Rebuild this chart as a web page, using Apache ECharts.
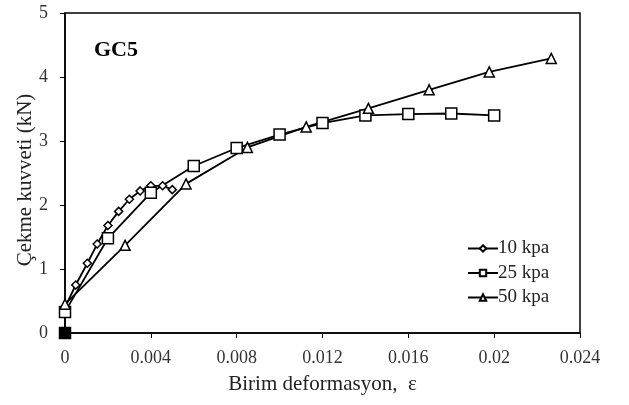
<!DOCTYPE html>
<html>
<head>
<meta charset="utf-8">
<script src="https://cdn.jsdelivr.net/npm/echarts@6/dist/echarts.min.js"></script>
<style>
  html, body { margin: 0; padding: 0; background: #fff; }
  #chart { width: 629px; height: 405px; }
</style>
</head>
<body>
<div id="chart"></div>
<script>
// birim deformasyon (x) / çekme kuvveti (y) okumaları
const strain10 = [0, 0, 0.0005, 0.00104, 0.0015, 0.002, 0.0025, 0.003, 0.0035, 0.004, 0.00455, 0.005]
const force10 = [0, 0.40, 0.75, 1.09, 1.39, 1.68, 1.90, 2.09, 2.22, 2.30, 2.30, 2.24]

const strain25 = [0, 0, 0.002, 0.004, 0.006, 0.008, 0.010, 0.012, 0.014, 0.016, 0.018, 0.020]
const force25 = [0, 0.33, 1.48, 2.19, 2.61, 2.89, 3.10, 3.28, 3.40, 3.42, 3.43, 3.40]

const strain50 = [0, 0, 0.0028, 0.00564, 0.0085, 0.01124, 0.01414, 0.01697, 0.01977, 0.02266]
const force50 = [0, 0.45, 1.37, 2.33, 2.90, 3.22, 3.51, 3.80, 4.08, 4.29]

const seriesNames = ['10 kpa', '25 kpa', '50 kpa']
const xTicks = ['0', '0.004', '0.008', '0.012', '0.016', '0.02', '0.024']
const yTicks = ['0', '1', '2', '3', '4', '5']

const myChart = echarts.init(document.getElementById('chart'))
const font = 'Liberation Serif'

// 原点那个点画成实心黑块
const toData = (xs, ys) => xs.map((x, i) => {
  const p = {value: [x, ys[i]]}
  if (i === 0) p.itemStyle = {color: '#000'}
  return p
})

const mkSeries = (name, xs, ys, symbol, size) => ({
  name: name,
  type: 'line',
  data: toData(xs, ys),
  symbol: symbol,
  symbolSize: size,
  showAllSymbol: true,
  lineStyle: {color: '#000', width: 1.8},
  itemStyle: {color: '#fff', borderColor: '#000', borderWidth: 1.5},
  emphasis: {disabled: true},
  animation: false
})

myChart.setOption({
  backgroundColor: '#fff',
  animation: false,
  textStyle: {fontFamily: font},
  title: {
    text: 'GC5',
    left: 94,
    top: 39,
    padding: 0,
    textStyle: {fontFamily: font, fontSize: 22, fontWeight: 'bold', color: '#000'}
  },
  grid: {
    left: 65,
    right: 49,
    top: 13,
    bottom: 72,
    show: true,
    borderColor: '#000',
    borderWidth: 1.5
  },
  legend: {
    orient: 'vertical',
    left: 467,
    top: 239,
    padding: 0,
    itemGap: 5.5,
    itemWidth: 30,
    itemHeight: 8,
    data: seriesNames,
    textStyle: {fontFamily: font, fontSize: 19, color: '#222', padding: [0, 0, 0, -5]}
  },
  xAxis: {
    type: 'value',
    min: 0,
    max: 0.024,
    interval: 0.004,
    name: 'Birim deformasyon,  ε',
    nameLocation: 'middle',
    nameGap: 41,
    nameMoveOverlap: false,
    nameTextStyle: {fontFamily: font, fontSize: 21, color: '#222'},
    axisLine: {lineStyle: {color: '#000', width: 1.5}},
    axisTick: {show: true, inside: false, length: 5, lineStyle: {color: '#000'}},
    axisLabel: {
      fontFamily: font, fontSize: 18, color: '#333', margin: 16,
      formatter: (v) => xTicks[Math.round(v / 0.004)]
    },
    splitLine: {show: false}
  },
  yAxis: {
    type: 'value',
    min: 0,
    max: 5,
    interval: 1,
    name: 'Çekme kuvveti (kN)',
    nameLocation: 'middle',
    nameGap: 29,
    nameMoveOverlap: false,
    nameTextStyle: {fontFamily: font, fontSize: 21, color: '#222', padding: [0, 14, 0, 0]},
    axisLine: {show: true, lineStyle: {color: '#000', width: 1.5}},
    axisTick: {show: true, inside: false, length: 5, lineStyle: {color: '#000'}},
    axisLabel: {
      fontFamily: font, fontSize: 18, color: '#333', margin: 17,
      formatter: (v) => yTicks[Math.round(v)]
    },
    splitLine: {show: false}
  },
  series: [
    mkSeries(seriesNames[0], strain10, force10, 'diamond', 8),
    mkSeries(seriesNames[1], strain25, force25, 'rect', 11),
    mkSeries(seriesNames[2], strain50, force50, 'triangle', 10)
  ]
})
</script>
</body>
</html>
